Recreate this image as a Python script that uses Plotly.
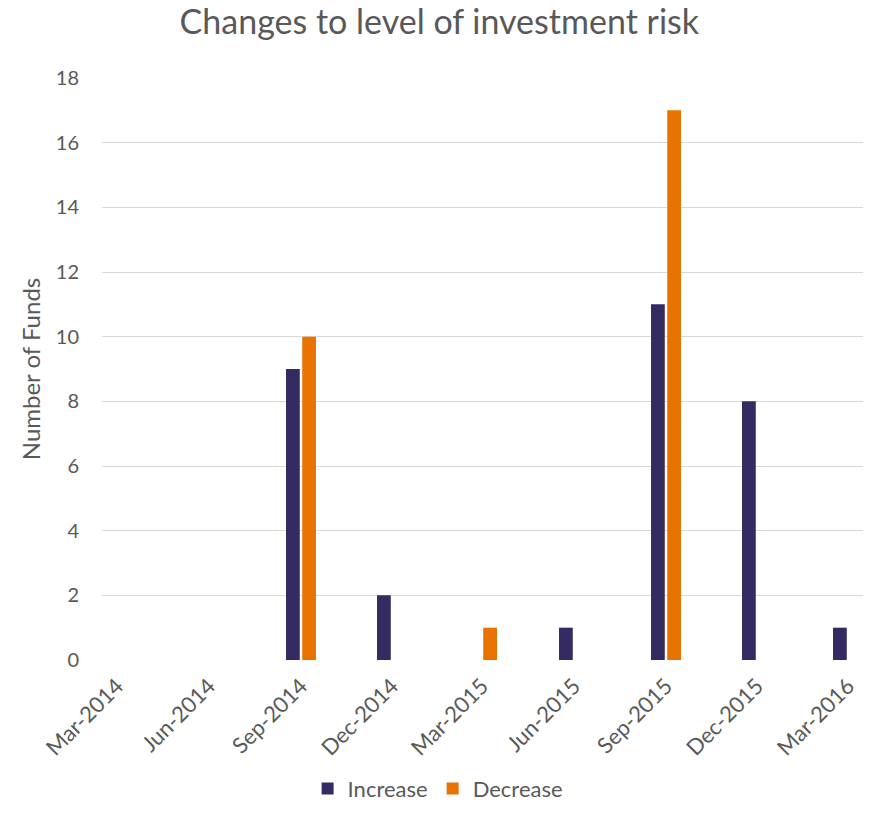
import plotly.graph_objects as go
import pandas as pd

# Quarterly review dates and number of funds changing risk level
quarters = ["2014-03-01", "2014-06-01", "2014-09-01", "2014-12-01", "2015-03-01",
            "2015-06-01", "2015-09-01", "2015-12-01", "2016-03-01"]
increase = [0, 0, 9, 2, 0, 1, 11, 8, 1]
decrease = [0, 0, 10, 0, 1, 0, 17, 0, 0]
y_ticks = [0, 2, 4, 6, 8, 10, 12, 14, 16, 18]

dates = pd.to_datetime(quarters)
text_color = "#595959"
font_family = "Lato, 'Open Sans', sans-serif"

fig = go.Figure()
fig.add_trace(go.Bar(x=dates, y=increase, name="Increase",
                     marker=dict(color="#352B62", line=dict(width=0))))
fig.add_trace(go.Bar(x=dates, y=decrease, name="Decrease",
                     marker=dict(color="#E97300", line=dict(width=0))))

fig.update_layout(
    width=870, height=813,
    margin=dict(l=102, r=7, t=78, b=153),
    paper_bgcolor="white", plot_bgcolor="white",
    barmode="group", bargap=0.64, bargroupgap=0.15,
    font=dict(family=font_family, color=text_color, size=20),
    title=dict(text="Changes to level of investment risk",
               x=0.505, xanchor="center", xref="container",
               y=0.987, yanchor="top", yref="container",
               font=dict(size=34, color=text_color)),
    legend=dict(orientation="h", x=0.503, xanchor="center", xref="container",
                y=0.004, yanchor="bottom", yref="container",
                font=dict(size=22), itemwidth=30, traceorder="normal"),
    showlegend=True,
)

fig.update_xaxes(
    type="date",
    range=["2014-02-14", "2016-03-16"],
    tick0="2014-03-01", dtick="M3", tickformat="%b-%Y",
    tickangle=-45, showgrid=False, zeroline=False, showline=False,
    ticks="", ticklabelstandoff=8,
    tickfont=dict(size=22, color=text_color),
)
fig.update_yaxes(
    range=[0, 18], tickvals=y_ticks,
    showgrid=True, gridcolor="#D9D9D9", gridwidth=1,
    zeroline=False, showline=False, ticks="", ticklabelstandoff=22,
    tickfont=dict(size=20, color=text_color),
    title=dict(text="Number of Funds", font=dict(size=24, color=text_color),
               standoff=8),
)

fig.write_html("out.html")
